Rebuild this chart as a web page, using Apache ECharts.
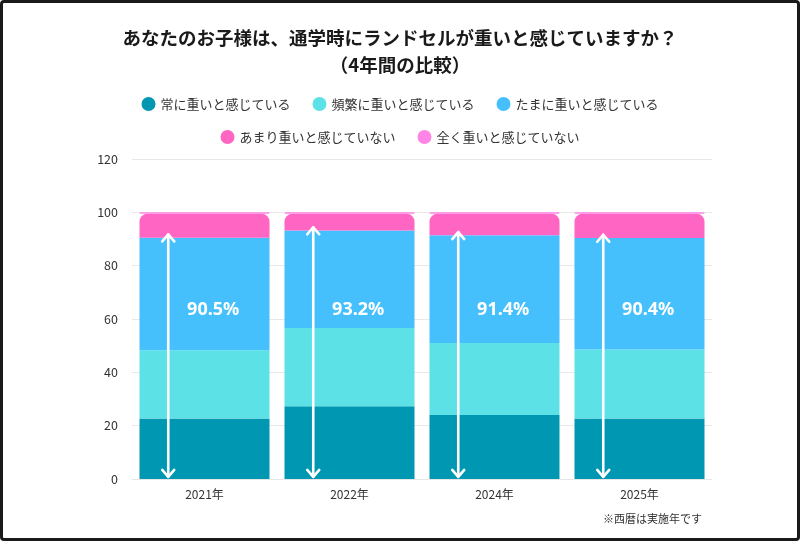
<!DOCTYPE html>
<html>
<head>
<meta charset="utf-8">
<script src="https://cdn.jsdelivr.net/npm/echarts@6/dist/echarts.min.js"></script>
<style>
html,body{margin:0;padding:0;background:#fff;}
#frame{position:absolute;left:0;top:0;width:794px;height:535px;border:3px solid #1a1a1a;border-radius:4px;background:#fff;}
#chart{position:absolute;left:0;top:0;width:800px;height:541px;}
</style>
</head>
<body>
<div id="frame"></div>
<div id="chart"></div>
<script>
var categories = ['2021年', '2022年', '2024年', '2025年'];
var seriesNames = ['常に重いと感じている', '頻繁に重いと感じている', 'たまに重いと感じている', 'あまり重いと感じていない', '全く重いと感じていない'];
var always     = [22.7, 27.3, 24.0, 22.7];
var often      = [25.6, 29.3, 27.0, 25.9];
var sometimes  = [42.2, 36.6, 40.4, 41.8];
var rarely     = [9.0, 6.3, 8.1, 9.1];
var never      = [0.5, 0.5, 0.5, 0.5];
var totals     = [90.5, 93.2, 91.4, 90.4];
var yTicks     = { min: 0, max: 120, interval: 20 };
var colors = ['#0097B2', '#5CE1E6', '#46C0FD', '#FF66C4', '#FF85E6'];

var font = '"Noto Sans CJK JP", "Noto Sans", sans-serif';
var chart = echarts.init(document.getElementById('chart'), null, {renderer: 'canvas'});

function barSeries(name, data, color, radius) {
  return {
    name: name, type: 'bar', stack: 'total', data: data,
    barWidth: 130,
    itemStyle: { color: color, borderRadius: radius },
    emphasis: { disabled: true }
  };
}

var arrowData = categories.map(function (c, i) { return [i, totals[i]]; });

var option = {
  animation: false,
  color: colors,
  title: {
    text: 'あなたのお子様は、通学時にランドセルが重いと感じていますか？\n（4年間の比較）',
    left: 'center', top: 19,
    textStyle: { fontFamily: font, fontSize: 18.5, fontWeight: 'bold', color: '#1a1a1a', lineHeight: 27 }
  },
  legend: [{
    data: seriesNames.slice(0, 3), top: 92, left: 'center',
    icon: 'circle', itemWidth: 14, itemHeight: 14, itemGap: 22,
    textStyle: { fontFamily: font, fontSize: 13, color: '#333' }
  }, {
    data: seriesNames.slice(3), top: 125, left: 'center',
    icon: 'circle', itemWidth: 14, itemHeight: 14, itemGap: 22,
    textStyle: { fontFamily: font, fontSize: 13, color: '#333' }
  }],
  grid: { left: 132, right: 88, top: 159, bottom: 62, containLabel: false },
  xAxis: {
    type: 'category', data: categories,
    axisLine: { lineStyle: { color: '#e6e6e6' } },
    axisTick: { show: false },
    axisLabel: { fontFamily: font, fontSize: 12, color: '#333', margin: 9 }
  },
  yAxis: {
    type: 'value', min: yTicks.min, max: yTicks.max, interval: yTicks.interval,
    axisLine: { show: false }, axisTick: { show: false },
    splitLine: { lineStyle: { color: '#e8e8e8' } },
    axisLabel: { fontFamily: font, fontSize: 12.5, color: '#333', margin: 14 }
  },
  series: [
    barSeries(seriesNames[0], always, colors[0], 0),
    barSeries(seriesNames[1], often, colors[1], 0),
    barSeries(seriesNames[2], sometimes, colors[2], 0),
    barSeries(seriesNames[3], rarely, colors[3], [8, 8, 0, 0]),
    barSeries(seriesNames[4], never, colors[4], [8, 8, 0, 0]),
    {
      type: 'custom', name: 'arrows', data: arrowData, z: 10,
      silent: true, legendHoverLink: false,
      renderItem: function (params, api) {
        var idx = api.value(0), top = api.value(1);
        var bw = api.size([1, 0])[0];
        var x = api.coord([idx, 0])[0] - bw * 0.25;
        var yBot = api.coord([idx, 0.8])[1];
        var yTop = api.coord([idx, top + 1.2])[1];
        var s = { stroke: '#fff', lineWidth: 2.6, fill: null, lineCap: 'round', lineJoin: 'round' };
        var cx = api.coord([idx, 0])[0];
        var yLab = api.coord([idx, 63.3])[1];
        return {
          type: 'group',
          children: [
            { type: 'line', shape: { x1: x, y1: yBot, x2: x, y2: yTop }, style: s },
            { type: 'polyline', shape: { points: [[x - 6, yTop + 7], [x, yTop], [x + 6, yTop + 7]] }, style: s },
            { type: 'polyline', shape: { points: [[x - 6, yBot - 7], [x, yBot], [x + 6, yBot - 7]] }, style: s },
            { type: 'text', x: cx + bw * 0.06, y: yLab,
              style: { text: top.toFixed(1) + '%', fill: '#fff', font: 'bold 18px "Noto Sans", sans-serif', align: 'center', verticalAlign: 'middle' } }
          ]
        };
      }
    }
  ],
  graphic: [{
    type: 'text', left: 603, top: 513,
    style: { text: '※西暦は実施年です', font: '11px "Noto Sans CJK JP", sans-serif', fill: '#333' }
  }]
};
chart.setOption(option);
</script>
</body>
</html>
